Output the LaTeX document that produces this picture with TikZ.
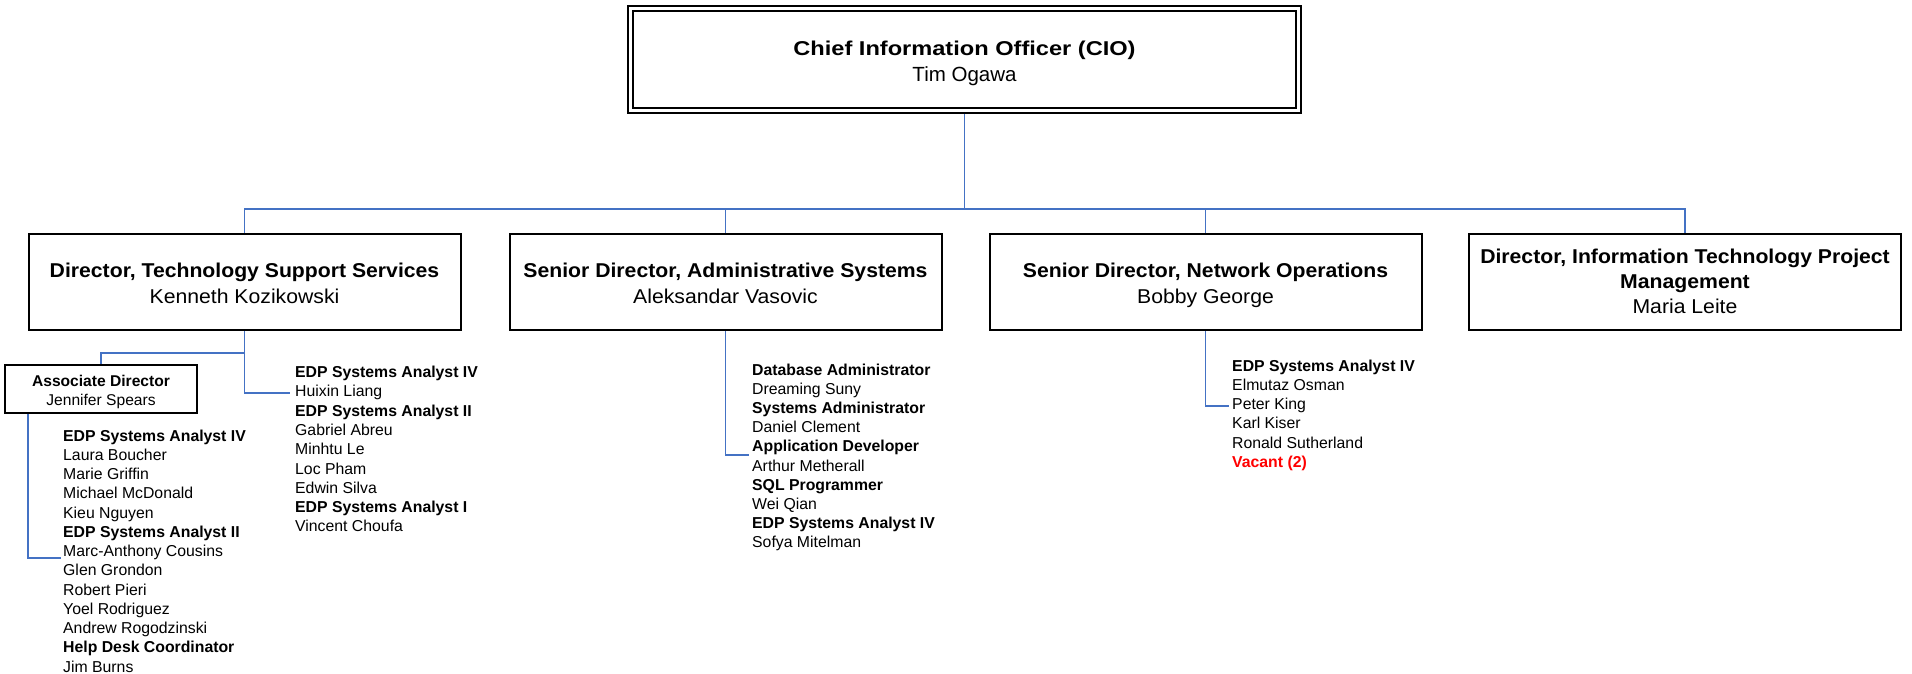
\documentclass[tikz,border=0pt]{standalone}
\usepackage{fontspec}
\setmainfont{Liberation Sans}
\newfontfamily\ciofont[FakeStretch=1.18]{Liberation Sans}
\newfontfamily\lvfont[FakeStretch=1.06]{Liberation Sans}
\definecolor{connblue}{HTML}{4472C4}
\tikzset{
  conn/.style={draw=connblue, line width=1.5pt},
  l2box/.style={draw, line width=2pt, minimum width=432pt, minimum height=96pt, inner sep=0pt},
  l2title/.style={anchor=base, inner sep=0pt, font=\lvfont\bfseries\fontsize{20}{24}\selectfont},
  l2name/.style={anchor=base, inner sep=0pt, font=\lvfont\fontsize{20}{24}\selectfont},
  item/.style={anchor=base west, inner sep=0pt, font=\fontsize{15.8}{19}\selectfont},
  smalltitle/.style={anchor=base, inner sep=0pt, font=\bfseries\fontsize{15.6}{19}\selectfont},
  smallname/.style={anchor=base, inner sep=0pt, font=\fontsize{15.6}{19}\selectfont},
}
\begin{document}
\begin{tikzpicture}[x=1pt, y=-1pt]
\useasboundingbox (0,0) rectangle (1912,674);

% CIO
\node[draw, line width=2.5pt, minimum width=673pt, minimum height=107pt, inner sep=0pt] (cio) at (964.5,59.5) {};
\node[draw, line width=1.2pt, minimum width=663pt, minimum height=97pt, inner sep=0pt] (cioin) at (964.5,59.5) {};
\node[anchor=base, inner sep=0pt, font=\ciofont\bfseries\fontsize{20}{24}\selectfont] (ciot) at (964.5,56) {Chief Information Officer (CIO)};
\node[anchor=base, inner sep=0pt, font=\fontsize{20.5}{24}\selectfont] (cion) at (964.5,82) {Tim Ogawa};

% level 2 boxes
\node[l2box] (tss) at (244.5,282) {};
\node[l2title] (tsst) at (244.5,277) {Director, Technology Support Services};
\node[l2name] (tssn) at (244.5,303) {Kenneth Kozikowski};

\node[l2box] (adm) at (725.5,282) {};
\node[l2title] (admt) at (725.5,277) {Senior Director, Administrative Systems};
\node[l2name] (admn) at (725.5,303) {Aleksandar Vasovic};

\node[l2box] (net) at (1205.5,282) {};
\node[l2title] (nett) at (1205.5,277) {Senior Director, Network Operations};
\node[l2name] (netn) at (1205.5,303) {Bobby George};

\node[l2box] (itpm) at (1685,282) {};
\node[l2title] (itpmt1) at (1685,263) {Director, Information Technology Project};
\node[l2title] (itpmt2) at (1685,288) {Management};
\node[l2name] (itpmn) at (1685,313) {Maria Leite};

% associate director
\node[draw, line width=2pt, minimum width=192pt, minimum height=48pt, inner sep=0pt] (assoc) at (101,389) {};
\node[smalltitle] (assoct) at (101,386) {Associate Director};
\node[smallname] (assocn) at (101,405) {Jennifer Spears};

% bus connectors
\coordinate (bus) at (964.5,209);
\draw[conn] (cio.south) -- (bus);
\draw[conn] (tss.north) |- (bus) -| (itpm.north);
\draw[conn] (adm.north) -- (adm.north |- bus);
\draw[conn] (net.north) -- (net.north |- bus);

% TSS connectors
\coordinate (tssj) at (244.5,353);
\coordinate (tssr) at (290,393);
\draw[conn] (tss.south) |- (tssr);
\draw[conn] (tssj) -| (assoc.north);
\coordinate (assocr) at (61,558);
\draw[conn] ([xshift=24pt]assoc.south west) |- (assocr);

% other connectors
\coordinate (admr) at (749,455);
\draw[conn] (adm.south) |- (admr);
\coordinate (netr) at (1229,406);
\draw[conn] (net.south) |- (netr);

% lists
\foreach \t [count=\i from 0] in {{\textbf{EDP Systems Analyst IV}},{Huixin Liang},{\textbf{EDP Systems Analyst II}},{Gabriel Abreu},{Minhtu Le},{Loc Pham},{Edwin Silva},{\textbf{EDP Systems Analyst I}},{Vincent Choufa}}
  \node[item] (tssl\i) at (295,{377.5+\i*19.3}) {\t};

\foreach \t [count=\i from 0] in {{\textbf{EDP Systems Analyst IV}},{Laura Boucher},{Marie Griffin},{Michael McDonald},{Kieu Nguyen},{\textbf{EDP Systems Analyst II}},{Marc-Anthony Cousins},{Glen Grondon},{Robert Pieri},{Yoel Rodriguez},{Andrew Rogodzinski},{\textbf{Help Desk Coordinator}},{Jim Burns}}
  \node[item] (asl\i) at (63,{441+\i*19.25}) {\t};

\foreach \t [count=\i from 0] in {{\textbf{Database Administrator}},{Dreaming Suny},{\textbf{Systems Administrator}},{Daniel Clement},{\textbf{Application Developer}},{Arthur Metherall},{\textbf{SQL Programmer}},{Wei Qian},{\textbf{EDP Systems Analyst IV}},{Sofya Mitelman}}
  \node[item] (adl\i) at (752,{375+\i*19.2}) {\t};

\foreach \t [count=\i from 0] in {{\textbf{EDP Systems Analyst IV}},{Elmutaz Osman},{Peter King},{Karl Kiser},{Ronald Sutherland},{\textcolor{red}{\textbf{Vacant (2)}}}}
  \node[item] (nel\i) at (1232,{371+\i*19.3}) {\t};
\end{tikzpicture}
\end{document}
